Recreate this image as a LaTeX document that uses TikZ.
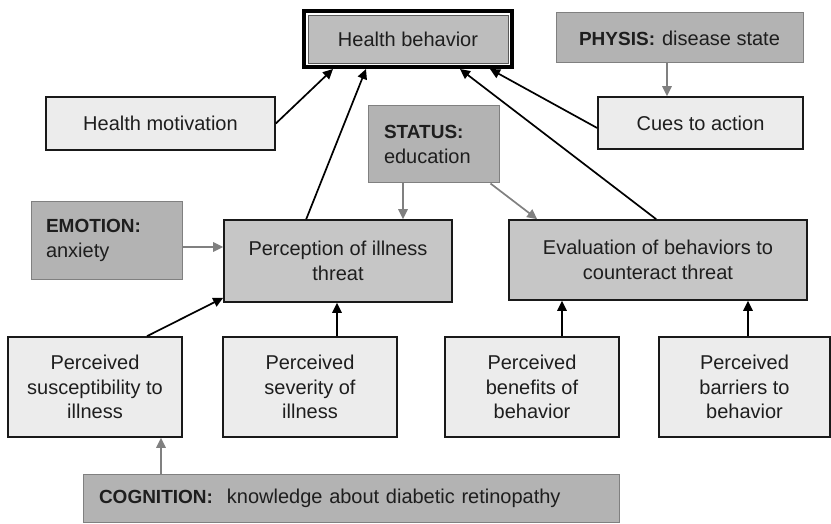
\documentclass[tikz,border=0pt]{standalone}
\usepackage{fontspec}
\setmainfont{Liberation Sans}
\usetikzlibrary{arrows.meta,calc}

\definecolor{darkfill}{HTML}{B3B3B3}
\definecolor{midfill}{HTML}{C6C6C6}
\definecolor{lightfill}{HTML}{ECECEC}
\definecolor{topfill}{HTML}{BDBDBD}
\definecolor{grayline}{HTML}{808080}
\definecolor{ink}{HTML}{1E1E1E}

\newcommand{\lbl}[1]{{\fontsize{19}{24.5}\selectfont\bfseries #1}}

\tikzset{
  basebx/.style={rectangle, inner sep=0pt, align=center, text=ink,
    font=\fontsize{20}{24.5}\selectfont},
  lightbx/.style={basebx, fill=lightfill, draw=black!90, line width=1.6pt},
  midbx/.style={basebx, fill=midfill, draw=black!90, line width=1.6pt},
  darkbx/.style={basebx, fill=darkfill, draw=grayline, line width=1pt},
  link/.style={draw=black, line width=1.7pt,
    -{Triangle[length=10pt,width=9.5pt]}},
  glink/.style={draw=grayline, line width=1.7pt,
    -{Triangle[length=10pt,width=9.5pt]}},
}

\begin{document}
\begin{tikzpicture}[x=1pt,y=-1pt]
\useasboundingbox (0,0) rectangle (831,524);

% top: the outcome, framed by a heavy double border
\node[basebx, fill=topfill, draw=black!65, line width=0.8pt,
      minimum width=200, minimum height=48] (hb) at (408,39) {Health behavior};
\draw[black, line width=4.2pt]
  ([xshift=-3.6pt,yshift=3.6pt]hb.north west) rectangle ([xshift=3.6pt,yshift=-3.6pt]hb.south east);

\coordinate (hbA) at (333,69);
\coordinate (hbB) at (366,69);
\coordinate (hbC) at (460,69);
\coordinate (hbD) at (490,69);

% modifying factors
\node[darkbx, minimum width=247, minimum height=50] (physis) at (679.5,38)
  {\lbl{PHYSIS:}\hspace{7pt}disease state};
\node[darkbx, minimum width=131, minimum height=77, text width=99, align=left] (status) at (433.5,144.5)
  {\lbl{STATUS:}\\education};
\node[darkbx, minimum width=151, minimum height=77, text width=121, align=left] (emotion) at (106.5,240.5)
  {\lbl{EMOTION:}\\anxiety};
\node[darkbx, minimum width=536, minimum height=48, text width=504, align=left] (cog) at (351,498)
  {\lbl{COGNITION:}\hspace{14pt}knowledge about diabetic retinopathy};

% model constructs
\node[lightbx, minimum width=229, minimum height=53] (hm) at (160.5,123.5) {Health motivation};
\node[lightbx, minimum width=205, minimum height=52] (cues) at (700.5,123) {Cues to action};
\node[midbx, minimum width=228, minimum height=82] (perc) at (338,261)
  {Perception of illness\\threat};
\node[midbx, minimum width=298, minimum height=80] (eval) at (658,260)
  {Evaluation of behaviors to\\counteract threat};
\node[lightbx, minimum width=174, minimum height=100] (sus) at (95,387)
  {Perceived\\susceptibility to\\illness};
\node[lightbx, minimum width=174, minimum height=100] (sev) at (310,387)
  {Perceived\\severity of\\illness};
\node[lightbx, minimum width=174, minimum height=100] (ben) at (532,387)
  {Perceived\\benefits of\\behavior};
\node[lightbx, minimum width=171, minimum height=100] (bar) at (744.5,387)
  {Perceived\\barriers to\\behavior};

% links into health behavior
\draw[link] (hm.east) -- (hbA);
\draw[link] ([xshift=83pt]perc.north west) -- (hbB);
\draw[link] ([xshift=148pt]eval.north west) -- (hbC);
\draw[link] ([yshift=-5pt]cues.west) -- (hbD);

% links from the modifying factors
\draw[glink] ([xshift=-12.5pt]physis.south) -- ([xshift=-33.5pt]cues.north);
\draw[glink] ([xshift=-30.5pt]status.south) -- ([xshift=65pt]perc.north);
\draw[glink] ([xshift=-9pt]status.south east) -- ([xshift=29pt]eval.north west);
\draw[glink] ([yshift=-6.5pt]emotion.east) -- ([yshift=14pt]perc.west);
\draw[glink] ([xshift=-190pt]cog.north) -- ([xshift=66pt]sus.south);

% perceptions feeding the two appraisals
\draw[link] ([xshift=52pt]sus.north) -- ([yshift=5pt]perc.south west);
\draw[link] ([xshift=27pt]sev.north) -- ([xshift=-1pt]perc.south);
\draw[link] ([xshift=30pt]ben.north) -- ([xshift=-96pt]eval.south);
\draw[link] ([xshift=3.5pt]bar.north) -- ([xshift=90pt]eval.south);
\end{tikzpicture}
\end{document}
